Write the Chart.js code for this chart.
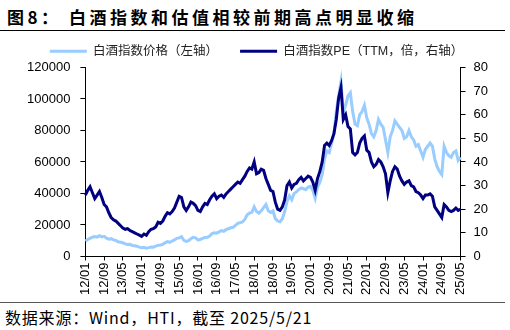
<!DOCTYPE html>
<html>
<head>
<meta charset="utf-8">
<script src="https://cdn.jsdelivr.net/npm/chart.js"></script>
<style>
  body { margin: 0; width: 510px; height: 330px; background: #fff; position: relative; overflow: hidden;
         font-family: "Liberation Sans", "Noto Sans CJK SC", sans-serif; }
  #title { position: absolute; left: 7px; top: 4px; font: bold 17px "Noto Sans CJK SC", sans-serif;
           letter-spacing: 3.5px; color: #000; white-space: nowrap; }
  #titleLine { position: absolute; left: 0; top: 30px; width: 505px; border-top: 1px solid #000; }
  #box { position: absolute; left: 0; top: 23px; width: 510px; height: 274px; }
  #footLine { position: absolute; left: 0; top: 302px; width: 505px; border-top: 1px solid #555; }
  #source { position: absolute; left: 5px; top: 305px; font: 16px "Noto Sans CJK SC", sans-serif;
            letter-spacing: 0.8px; color: #000; white-space: nowrap; }
</style>
</head>
<body>
<div id="title">图8：&nbsp;白酒指数和估值相较前期高点明显收缩</div>
<div id="titleLine"></div>
<div id="box"><canvas id="liquorChart"></canvas></div>
<div id="footLine"></div>
<div id="source">数据来源：Wind，HTI，截至 2025/5/21</div>
<script>
// monthly points, 2012/01 .. 2025/05
const xTickLabels = ['12/01', '12/09', '13/05', '14/01', '14/09', '15/05', '16/01', '16/09', '17/05', '18/01',
  '18/09', '19/05', '20/01', '20/09', '21/05', '22/01', '22/09', '23/05', '24/01', '24/09', '25/05'];

const months = [];
for (let y = 12; y <= 25; y++) {
  for (let m = 1; m <= 12; m++) {
    if (y === 25 && m > 5) break;
    months.push(y + '/' + String(m).padStart(2, '0'));
  }
}

// 白酒指数价格（左轴）
const priceValues = [
  9800, 10800, 11500, 12200, 12600, 12300, 13200, 12400, 12800, 11600, 11000, 11300,
  10500, 10200, 9300, 9000, 8700, 8000, 7600, 7800, 7000, 6800, 6500, 5900,
  5600, 5800, 5300, 5600, 6000, 5900, 6500, 7200, 7300, 7700, 8600, 9400,
  9000, 9800, 10500, 11500, 11800, 12500, 10200, 9600, 10000, 11200, 12200, 11800,
  10500, 10800, 11500, 12000, 12200, 13000, 14500, 15000, 14800, 15600, 16400, 16000,
  17000, 17600, 18200, 18500, 19800, 21000, 21500, 22000, 23500, 26500, 27500, 28000,
  31500, 28500, 27500, 29000, 31000, 33000, 29000, 28000, 29000, 24000, 22500, 22000,
  24000, 28500, 35000, 38500, 36000, 40000, 41000, 42500, 43500, 43000, 42500, 44000,
  44500, 42000, 37000, 44000, 47000, 52000, 62000, 67000, 66000, 72000, 78000, 92000,
  102000, 111000, 92000, 96000, 102000, 104000, 92000, 84000, 83000, 90000, 92000, 96000,
  88000, 84000, 78000, 76000, 80000, 87000, 84000, 82000, 74000, 66000, 76000, 80000,
  86000, 84000, 82000, 80000, 75000, 76000, 80000, 76000, 74000, 70000, 71000, 67000,
  63000, 68000, 70000, 72000, 70000, 62000, 57000, 54000, 52000, 70000, 66000, 64000,
  63000, 66000, 67000, 61000, 63000
];

// 白酒指数PE（TTM，倍，右轴）
const peValues = [
  26, 28, 29.5, 27, 24.5, 26, 27.5, 25, 22, 21, 18.5, 16.5,
  15.5, 15, 14, 13, 12, 11.5, 11.8, 11, 10.5, 10, 9.5, 9,
  8.5, 9.5, 9, 10.5, 11.5, 11.8, 12.5, 14.5, 14, 15, 17, 18.5,
  18, 19, 20.5, 23, 25.5, 25, 21, 19.5, 21, 23, 22.5, 21.5,
  19.5, 19, 21, 22.5, 22, 24, 25.5, 26.5, 24.5, 25.5, 26, 25,
  26.5, 27.5, 28.5, 29.5, 30.5, 31.5, 31, 32.5, 34, 36, 37.5, 37,
  40, 35, 35.5, 37, 36.5, 33, 30.5, 28, 27.5, 23, 20, 19.5,
  21, 24, 30, 31.5, 29, 30.5, 31, 32.5, 33.5, 32, 33, 34,
  33.5, 31.5, 28, 33, 36, 40, 47, 48, 47, 49, 52, 58,
  67, 71.5, 58, 60, 55, 54, 44, 43, 44, 48, 50, 51,
  45, 44, 40, 38, 39, 41, 40, 38, 35, 27, 32, 36,
  38, 37, 34, 32, 30.5, 31.5, 32, 30, 29.5, 27.5, 27, 26,
  24.5, 26, 26, 26.5, 25.5, 21, 19.5, 18, 16.5, 22, 21, 19.5,
  19, 19.5, 20.5, 19.5, 20
];

const tickFont = { family: '"Liberation Sans", "Noto Sans CJK SC", sans-serif', size: 13 };

const ctx = document.getElementById('liquorChart').getContext('2d');
const liquorChart = new Chart(ctx, {
  type: 'line',
  data: {
    labels: months,
    datasets: [
      {
        label: '白酒指数价格（左轴）',
        data: priceValues,
        yAxisID: 'yLeft',
        borderColor: '#99ccff',
        backgroundColor: '#99ccff',
        borderWidth: 3,
        pointRadius: 0,
        pointStyle: 'line',
        tension: 0,
        order: 2
      },
      {
        label: '白酒指数PE（TTM，倍，右轴）',
        data: peValues,
        yAxisID: 'yRight',
        borderColor: '#000080',
        backgroundColor: '#000080',
        borderWidth: 3,
        pointRadius: 0,
        pointStyle: 'line',
        tension: 0,
        order: 1
      }
    ]
  },
  options: {
    responsive: true,
    maintainAspectRatio: false,
    animation: false,
    layout: { padding: { left: 17, right: 14, top: 0, bottom: 0 } },
    plugins: {
      tooltip: { enabled: false },
      legend: {
        position: 'top',
        labels: {
          usePointStyle: true,
          pointStyleWidth: 37,
          color: '#222',
          padding: 22,
          font: { family: '"Liberation Sans", "Noto Sans CJK SC", sans-serif', size: 12.5 },
          sort: (a, b) => a.datasetIndex - b.datasetIndex
        }
      }
    },
    scales: {
      x: {
        offset: false,
        border: { color: '#000', width: 1 },
        grid: { drawOnChartArea: false, tickLength: 4, tickColor: '#000' },
        ticks: {
          autoSkip: false,
          maxRotation: 90,
          minRotation: 90,
          padding: 2,
          color: '#000',
          font: tickFont,
          callback: (v, i) => (i % 8 === 0 ? xTickLabels[i / 8] : null)
        }
      },
      yLeft: {
        position: 'left',
        min: 0,
        max: 120000,
        border: { color: '#000', width: 1 },
        grid: { drawOnChartArea: false, tickLength: 5, tickColor: '#000' },
        ticks: { stepSize: 20000, padding: 10, color: '#000', font: tickFont, callback: v => String(v) }
      },
      yRight: {
        position: 'right',
        min: 0,
        max: 80,
        border: { color: '#000', width: 1 },
        grid: { drawOnChartArea: false, tickLength: 5, tickColor: '#000' },
        ticks: { stepSize: 10, padding: 8, color: '#000', font: tickFont }
      }
    }
  }
});
</script>
</body>
</html>
